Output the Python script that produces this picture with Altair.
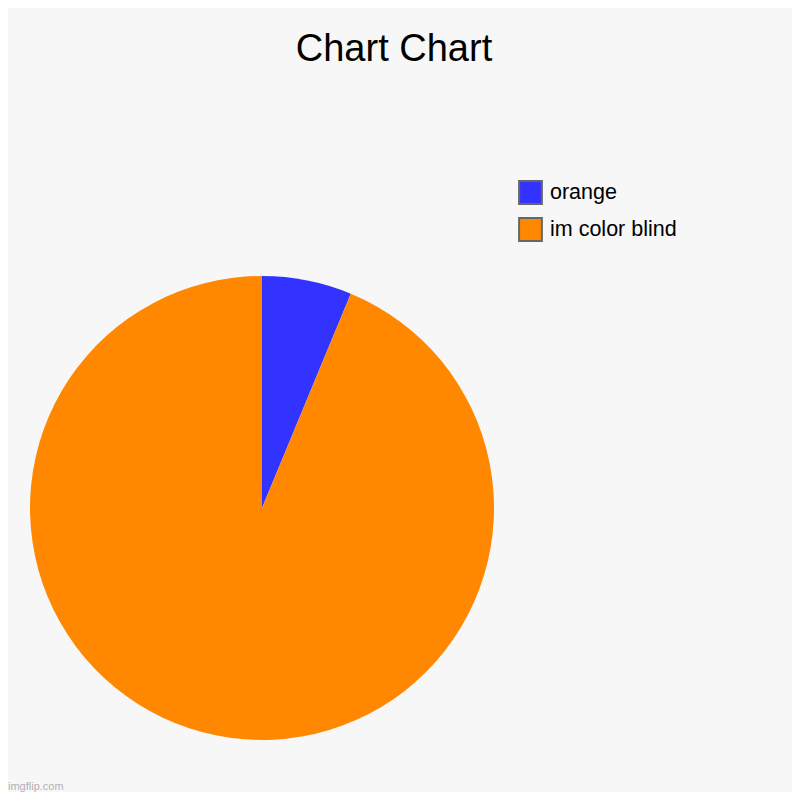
import altair as alt
import pandas as pd

categories = ["orange", "im color blind"]
values = [1, 15]
colors = ["#3333ff", "#ff8800"]
order_idx = [0, 1]

df = pd.DataFrame({"category": categories, "value": values, "idx": order_idx})

TOP = 54

pie = alt.Chart(df).mark_arc(radius=232).encode(
    theta=alt.Theta("value:Q", stack=True),
    order=alt.Order("idx:Q"),
    color=alt.Color(
        "category:N",
        scale=alt.Scale(domain=categories, range=colors),
        sort=categories,
        legend=alt.Legend(
            title=None,
            orient="none",
            legendX=510,
            legendY=172 - TOP,
            symbolType="square",
            symbolSize=520,
            symbolStrokeColor="#666666",
            symbolStrokeWidth=2,
            symbolOpacity=1,
            labelFont="Liberation Sans",
            labelFontSize=21.5,
            labelColor="#000000",
            labelOffset=7,
            rowPadding=6,
            padding=0,
        ),
    ),
    x=alt.value(254),
    y=alt.value(500 - TOP),
)

mark = alt.Chart(alt.Data(values=[{}])).mark_text(
    text="imgflip.com", align="left", baseline="alphabetic",
    fontSize=11, color="#b0b0b0", font="Liberation Sans"
).encode(x=alt.value(0), y=alt.value(782 - TOP))

chart = alt.layer(pie, mark).properties(
    width=784,
    height=784 - TOP,
    autosize=alt.AutoSizeParams(type="none"),
    padding={"left": 0, "top": TOP, "right": 0, "bottom": 0},
    title=alt.TitleParams(
        "Chart Chart",
        font="Liberation Sans",
        fontSize=38,
        fontWeight="normal",
        color="#000000",
        anchor="middle",
        baseline="alphabetic",
        offset=0,
        dx=-6,
        dy=37,
    ),
).configure(background="#f7f7f7").configure_view(stroke=None)

chart.save("out.html", embed_options={"renderer": "svg", "actions": False})
